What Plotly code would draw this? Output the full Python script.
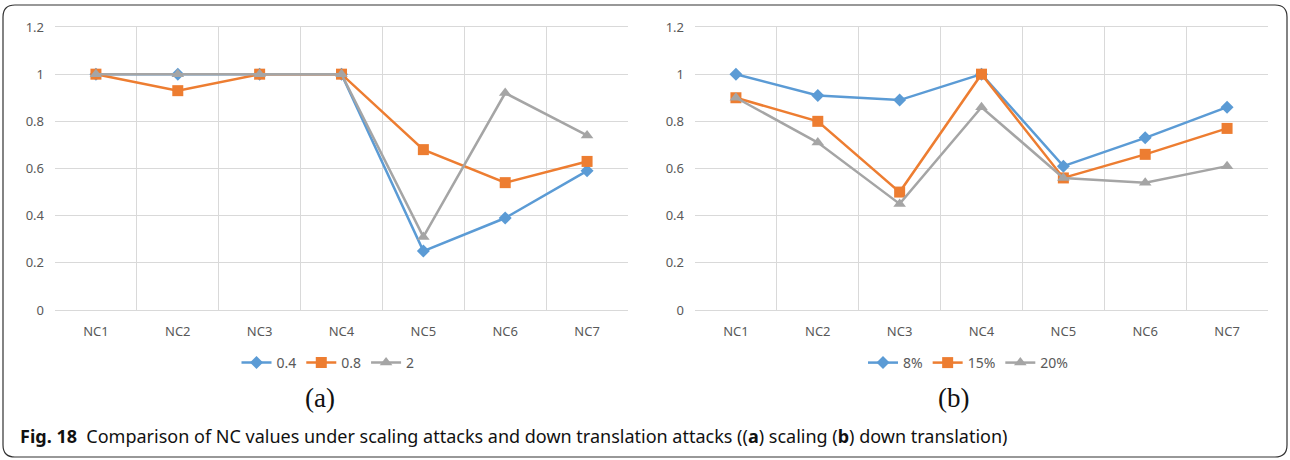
import plotly.graph_objects as go

# Categories shared by both panels
categories = ["NC1", "NC2", "NC3", "NC4", "NC5", "NC6", "NC7"]

# (a) scaling attacks
scale_names = ["0.4", "0.8", "2"]
scale_04 = [1.0, 1.0, 1.0, 1.0, 0.25, 0.39, 0.59]
scale_08 = [1.0, 0.93, 1.0, 1.0, 0.68, 0.54, 0.63]
scale_2 = [1.0, 1.0, 1.0, 1.0, 0.31, 0.92, 0.74]

# (b) down translation attacks
shift_names = ["8%", "15%", "20%"]
shift_8 = [1.0, 0.91, 0.89, 1.0, 0.61, 0.73, 0.86]
shift_15 = [0.9, 0.8, 0.5, 1.0, 0.56, 0.66, 0.77]
shift_20 = [0.9, 0.71, 0.45, 0.86, 0.56, 0.54, 0.61]

y_ticks = [0, 0.2, 0.4, 0.6, 0.8, 1.0, 1.2]
y_tick_text = ["0", "0.2", "0.4", "0.6", "0.8", "1", "1.2"]

colors = ["#5B9BD5", "#ED7D31", "#A5A5A5"]
symbols = ["diamond", "square", "triangle-up"]
sizes = [10, 11, 11]

W, H = 1290, 460

fig = go.Figure()

panel_a = [scale_04, scale_08, scale_2]
panel_b = [shift_8, shift_15, shift_20]

for i, (name, vals) in enumerate(zip(scale_names, panel_a)):
    fig.add_trace(go.Scatter(
        x=categories, y=vals, name=name, mode="lines+markers",
        line=dict(color=colors[i], width=2.5),
        marker=dict(symbol=symbols[i], size=sizes[i], color=colors[i]),
        xaxis="x", yaxis="y", legend="legend",
    ))

for i, (name, vals) in enumerate(zip(shift_names, panel_b)):
    fig.add_trace(go.Scatter(
        x=categories, y=vals, name=name, mode="lines+markers",
        line=dict(color=colors[i], width=2.5),
        marker=dict(symbol=symbols[i], size=sizes[i], color=colors[i]),
        xaxis="x2", yaxis="y2", legend="legend2",
    ))

grid = "#D9D9D9"
tick_font = dict(family="Noto Sans, Liberation Sans, sans-serif", size=13, color="#595959")

def xaxis_cfg(domain, anchor):
    return dict(
        domain=domain, anchor=anchor, type="category",
        categoryorder="array", categoryarray=categories,
        range=[-0.5, 6.5], tickson="boundaries",
        showgrid=True, gridcolor=grid, gridwidth=1.3,
        showline=True, linecolor=grid, linewidth=1.3, mirror=True,
        ticks="", tickfont=tick_font, ticklabelstandoff=9,
        zeroline=False, fixedrange=True, automargin=False,
    )

def yaxis_cfg(domain, anchor):
    return dict(
        domain=domain, anchor=anchor, range=[0, 1.2],
        tickvals=y_ticks, ticktext=y_tick_text,
        showgrid=True, gridcolor=grid, gridwidth=1.3,
        showline=False, zeroline=False, ticks="",
        tickfont=tick_font, ticklabelstandoff=10, fixedrange=True,
        automargin=False,
    )

y_dom = [1 - 310 / H, 1 - 27 / H]

legend_common = dict(
    orientation="h", xanchor="center", yanchor="middle",
    font=dict(family="Noto Sans, Liberation Sans, sans-serif", size=14, color="#595959"),
    bgcolor="rgba(0,0,0,0)", itemwidth=30, tracegroupgap=0,
)

fig.update_layout(
    width=W, height=H,
    margin=dict(l=0, r=0, t=0, b=0, autoexpand=False),
    paper_bgcolor="white", plot_bgcolor="white",
    xaxis=xaxis_cfg([55 / W, 628 / W], "y"),
    yaxis=yaxis_cfg(y_dom, "x"),
    xaxis2=xaxis_cfg([695 / W, 1268 / W], "y2"),
    yaxis2=yaxis_cfg(y_dom, "x2"),
    legend=dict(x=328 / W, y=1 - 363 / H, **legend_common),
    legend2=dict(x=968 / W, y=1 - 363 / H, **legend_common),
    showlegend=True,
)

# Panel letters
serif = dict(family="Liberation Serif, DejaVu Serif, serif", size=27, color="#111111")
fig.add_annotation(text="(a)", x=320 / W, y=1 - 398 / H, xref="paper", yref="paper",
                   showarrow=False, font=serif, xanchor="center", yanchor="middle")
fig.add_annotation(text="(b)", x=953 / W, y=1 - 398 / H, xref="paper", yref="paper",
                   showarrow=False, font=serif, xanchor="center", yanchor="middle")

# Figure caption
fig.add_annotation(
    text="<b>Fig. 18</b>  Comparison of NC values under scaling attacks and down translation attacks "
         "((<b>a</b>) scaling (<b>b</b>) down translation)",
    x=18 / W, y=1 - 436 / H, xref="paper", yref="paper", showarrow=False,
    xanchor="left", yanchor="middle",
    font=dict(family="Noto Sans, Liberation Sans, sans-serif", size=18, color="#111111"),
)

# Rounded frame around the whole figure
x0, x1, y0, y1 = 3 / W, 1287 / W, 1 - 457 / H, 1 - 5 / H
rx, ry = 12 / W, 12 / H
path = (
    f"M {x0 + rx},{y1} L {x1 - rx},{y1} Q {x1},{y1} {x1},{y1 - ry} "
    f"L {x1},{y0 + ry} Q {x1},{y0} {x1 - rx},{y0} "
    f"L {x0 + rx},{y0} Q {x0},{y0} {x0},{y0 + ry} "
    f"L {x0},{y1 - ry} Q {x0},{y1} {x0 + rx},{y1} Z"
)
fig.add_shape(type="path", path=path, xref="paper", yref="paper",
              line=dict(color="#333333", width=1.2), fillcolor="rgba(0,0,0,0)", layer="below")

fig.write_html("out.html")
